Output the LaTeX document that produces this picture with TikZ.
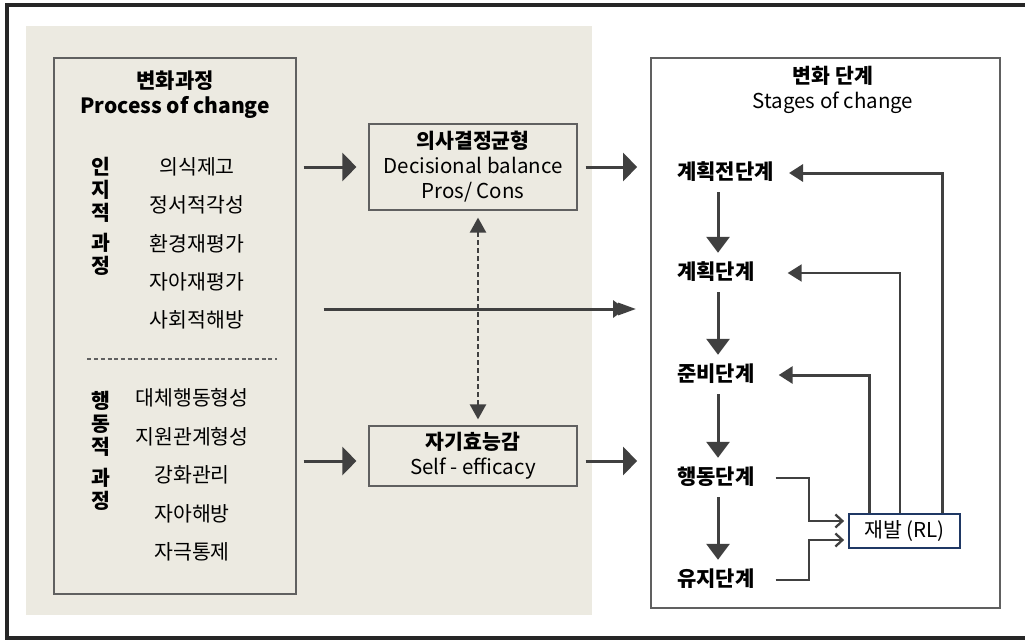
\documentclass[tikz,border=0pt]{standalone}
\usepackage{fontspec}
\setmainfont{Noto Sans CJK KR}
\usepackage{xcolor}
\usepackage{tikz}
\usetikzlibrary{positioning, arrows.meta}

\definecolor{bgbeige}{RGB}{236,234,225}
\definecolor{linegray}{RGB}{64,64,64}
\definecolor{boxgray}{RGB}{96,96,96}
\definecolor{rlblue}{RGB}{31,56,100}

\begin{document}
\begin{tikzpicture}[
    x=1pt, y=-1pt,
    font=\fontsize{20.5}{25}\selectfont,
    box/.style={draw=boxgray, line width=1.2pt, align=center, inner sep=0pt},
    stage/.style={font=\fontsize{21}{25}\selectfont\bfseries, anchor=west, inner sep=0pt, text height=15pt, text depth=3pt},
    item/.style={inner sep=0pt},
    vtag/.style={font=\fontsize{20.5}{23}\selectfont\bfseries, align=center, inner sep=0pt},
    bigarrow/.style={-{Triangle[length=14pt,width=28pt]}, line width=3pt, linegray},
    longarrow/.style={-{Triangle[length=12pt,width=17pt,sep=-7pt]Triangle[length=18pt,width=12pt]}, line width=3pt, linegray},
    dasharrow/.style={{Triangle[length=15pt,width=16pt]}-{Triangle[length=15pt,width=16pt]}, line width=2.4pt, linegray, dash pattern=on 5pt off 3pt},
    downarrow/.style={-{Triangle[length=16pt,width=23pt]}, line width=3pt, linegray},
    backarrow/.style={-{Triangle[length=14pt,width=17pt]}, line width=3pt, linegray},
    inarrow/.style={-{Straight Barb[length=7pt,width=13pt]}, line width=2.3pt, linegray}
]

\useasboundingbox (0,0) rectangle (1025,640);

% Frame and background
\draw[line width=3.2pt, black!85] (7,5) rectangle (1032,638);
\fill[bgbeige] (26,26) rectangle (592,615);

% Process of change
\node[box, minimum width=242pt, minimum height=536pt] (procbox) at (175,326) {};
\node[item, align=center, font=\fontsize{21}{25}\selectfont\bfseries] (proctitle) at (175,95) {변화과정\\Process of change};

\node[vtag] (cogtag) at (101,216) {인\\지\\적\\[7pt]과\\정};
\foreach \t [count=\i from 0] in {의식제고, 정서적각성, 환경재평가, 자아재평가, 사회적해방} {
    \node[item] (cog\i) at (197, 167+38.25*\i) {\t};
}

\draw[boxgray, line width=1.2pt, dash pattern=on 4pt off 2.7pt]
    ([xshift=34pt]procbox.west |- 0,359) -- ([xshift=-20pt]procbox.east |- 0,359);

\node[vtag] (behtag) at (101,451) {행\\동\\적\\[8pt]과\\정};
\foreach \t [count=\i from 0] in {대체행동형성, 지원관계형성, 강화관리, 자아해방, 자극통제} {
    \node[item] (beh\i) at (192, 398+38.5*\i) {\t};
}

% Mediators
\node[box, minimum width=208pt, minimum height=86pt] (dec) at (473,167)
    {\textbf{의사결정균형}\\Decisional balance\\Pros/ Cons};
\node[box, minimum width=208pt, minimum height=60pt] (self) at (473,456)
    {\textbf{자기효능감}\\Self - efficacy};

% Stages of change
\node[draw=boxgray, line width=1.8pt, minimum width=349pt, minimum height=550pt] (stagebox) at (825.5,333) {};
\node[item, align=center] (stagetitle) at (833,90) {\textbf{변화 단계}\\Stages of change};

\foreach \n/\y/\t in {s1/173/계획전단계, s2/273/계획단계, s3/375/준비단계, s4/478/행동단계, s5/580/유지단계} {
    \node[stage] (\n) at (677,\y) {\t};
}
\coordinate (sx) at (718,0);
\foreach \a/\b in {s1/s2, s2/s3, s3/s4, s4/s5} {
    \draw[downarrow] ([yshift=-10pt]\a.south -| sx) -- ([yshift=11pt]\b.north -| sx);
}

\node[draw=rlblue, line width=1.8pt, fill=white, minimum width=111pt, minimum height=34pt, inner sep=0pt] (rl) at (904.5,531) {재발 (RL)};

% Arrows into stages
\draw[bigarrow] ([xshift=7pt]procbox.east |- dec) -- ([xshift=-12pt]dec.west);
\draw[bigarrow] ([xshift=8pt]dec.east) -- ([xshift=-13pt]stagebox.west |- dec);
\draw[bigarrow] ([xshift=7pt]procbox.east |- 0,461) -- ([xshift=-12pt]self.west |- 0,461);
\draw[bigarrow] ([xshift=8pt]self.east |- 0,461) -- ([xshift=-13pt]stagebox.west |- 0,461);
\draw[longarrow] ([xshift=27pt]procbox.east |- 0,309) -- ([xshift=-14pt]stagebox.west |- 0,309);
\draw[dasharrow] ([shift={(5,7)}]dec.south) -- ([shift={(5,-6)}]self.north);

% Relapse
\draw[inarrow] ([xshift=21pt]s4.east) -- ++(33,0) |- ([shift={(-4,-10)}]rl.west);
\draw[inarrow] ([xshift=21pt]s5.east) -- ++(33,0) |- ([shift={(-4,9)}]rl.west);
\draw[backarrow] ([xshift=-35.5pt]rl.north) |- ([xshift=24pt]s3.east);
\draw[backarrow, line width=2pt] ([xshift=-4.5pt]rl.north) |- ([xshift=33pt]s2.east);
\draw[backarrow] ([xshift=37.5pt]rl.north) |- ([xshift=15pt]s1.east);

\end{tikzpicture}
\end{document}
